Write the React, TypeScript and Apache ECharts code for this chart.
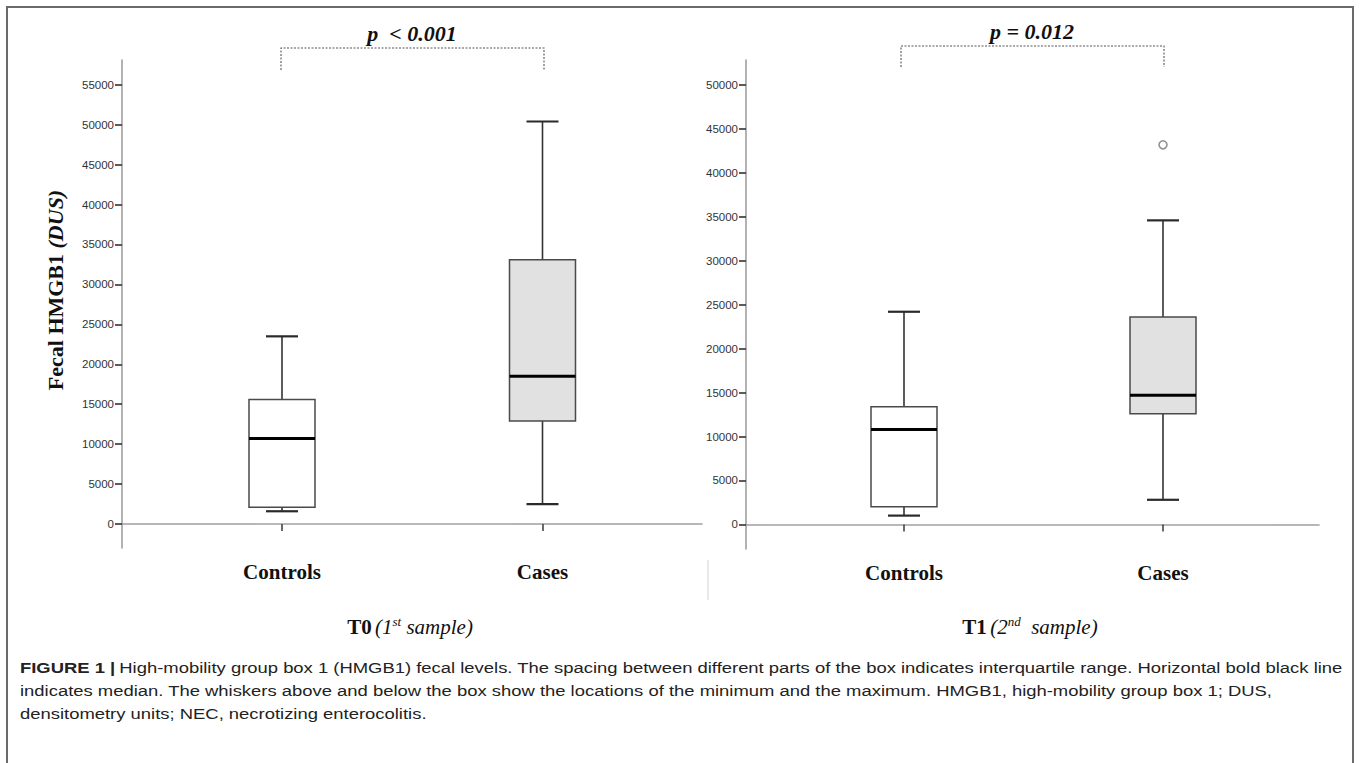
import React, { useEffect, useRef } from "react";
import * as echarts from "echarts";

// ---------- data ----------
const categories = ["Controls", "Cases"];
// each box: [min, Q1, median, Q3, max]
const t0Controls = [1600, 2100, 10700, 15600, 23500];
const t0Cases = [2500, 12900, 18500, 33100, 50400];
const t1Controls = [1000, 2000, 10800, 13400, 24200];
const t1Cases = [2800, 12600, 14700, 23600, 34600];
const t1CasesOutliers = [43200];
const t0Ticks = [0, 5000, 10000, 15000, 20000, 25000, 30000, 35000, 40000, 45000, 50000, 55000];
const t1Ticks = [0, 5000, 10000, 15000, 20000, 25000, 30000, 35000, 40000, 45000, 50000];
const t0Range = [-3000, 58100];
const t1Range = [-2800, 52850];
const boxFills = ["#ffffff", "#e1e1e1"];
const pLabels = ["p  < 0.001", "p = 0.012"];
const yTitle = "Fecal HMGB1 ";
const yTitleUnit = "(DUS)";
const captionLines = [
  "High-mobility group box 1 (HMGB1) fecal levels. The spacing between different parts of the box indicates interquartile range. Horizontal bold black line",
  "indicates median. The whiskers above and below the box show the locations of the minimum and the maximum. HMGB1, high-mobility group box 1; DUS,",
  "densitometry units; NEC, necrotizing enterocolitis.",
];

const SERIF = "'Liberation Serif', 'Times New Roman', serif";
const SANS = "'Liberation Sans', Arial, sans-serif";

const renderBox = (params: any, api: any) => {
  const idx = api.value(0);
  const c = (v: number) => api.coord([idx, v]);
  const pMin = c(api.value(1));
  const pQ1 = c(api.value(2));
  const pMed = c(api.value(3));
  const pQ3 = c(api.value(4));
  const pMax = c(api.value(5));
  const cx = pMed[0];
  const hw = 33;
  const cw = 16;
  const whisker = { stroke: "#333333", lineWidth: 1.6 };
  const capStyle = { stroke: "#2a2a2a", lineWidth: 2.2 };
  return {
    type: "group",
    children: [
      { type: "line", shape: { x1: cx, y1: pQ3[1], x2: cx, y2: pMax[1] }, style: whisker },
      { type: "line", shape: { x1: cx, y1: pQ1[1], x2: cx, y2: pMin[1] }, style: whisker },
      { type: "line", shape: { x1: cx - cw, y1: pMax[1], x2: cx + cw, y2: pMax[1] }, style: capStyle },
      { type: "line", shape: { x1: cx - cw, y1: pMin[1], x2: cx + cw, y2: pMin[1] }, style: capStyle },
      {
        type: "rect",
        shape: { x: cx - hw, y: pQ3[1], width: 2 * hw, height: pQ1[1] - pQ3[1] },
        style: { fill: boxFills[params.dataIndex], stroke: "#4a4a4a", lineWidth: 1.5 },
      },
      { type: "line", shape: { x1: cx - hw, y1: pMed[1], x2: cx + hw, y2: pMed[1] }, style: { stroke: "#000", lineWidth: 3 } },
    ],
  };
};

const frameX = (gridIndex: number) => ({
  gridIndex,
  type: "value",
  min: 0,
  max: 1,
  axisLine: { show: true, lineStyle: { color: "#a0a0a0", width: 1.6 } },
  axisTick: { show: false },
  axisLabel: { show: false },
  splitLine: { show: false },
});

const catX = (gridIndex: number) => ({
  gridIndex,
  type: "category",
  data: categories,
  axisLine: { show: false },
  axisTick: { show: true, alignWithLabel: true, length: 7, lineStyle: { color: "#444", width: 1.6 } },
  axisLabel: { margin: 13, fontFamily: SERIF, fontWeight: "bold", fontSize: 21, color: "#111" },
  splitLine: { show: false },
});

const frameY = (gridIndex: number, range: number[], ticks: number[]) => ({
  gridIndex,
  type: "value",
  min: range[0],
  max: range[1],
  axisLine: { show: true, lineStyle: { color: "#a0a0a0", width: 1.6 } },
  axisTick: { show: true, length: 7, customValues: ticks, lineStyle: { color: "#333", width: 1.6 } },
  axisLabel: {
    customValues: ticks,
    margin: 8,
    fontFamily: SANS,
    fontSize: 11.5,
    color: "#333",
    formatter: (v: number) => String(v),
  },
  splitLine: { show: false },
});

const hiddenY = (gridIndex: number, range: number[]) => ({
  gridIndex,
  type: "value",
  min: range[0],
  max: range[1],
  show: false,
  splitLine: { show: false },
});

const pText = (text: string, x: number, y: number) => ({
  type: "text",
  x,
  y,
  style: {
    text,
    fontFamily: SERIF,
    fontWeight: "bold",
    fontStyle: "italic",
    fontSize: 22,
    fill: "#111",
    align: "center",
    verticalAlign: "middle",
  },
});

const subRich = {
  b: { fontFamily: SERIF, fontWeight: "bold", fontSize: 21, lineHeight: 24, fill: "#111" },
  i: { fontFamily: SERIF, fontStyle: "italic", fontSize: 21, lineHeight: 24, fill: "#111" },
  s: { fontFamily: SERIF, fontStyle: "italic", fontSize: 13, lineHeight: 14, verticalAlign: "top", fill: "#111" },
};

export default function App() {
  const ref = useRef<HTMLDivElement>(null);
  useEffect(() => {
    if (!ref.current) return;
    const chart = echarts.init(ref.current, undefined, { renderer: "svg" });
    const option: any = {
      animation: false,
      backgroundColor: "#ffffff",
      grid: [
        { left: 122, top: 60, width: 580, height: 488, outerBoundsMode: "none" },
        { left: 151.75, top: 60, width: 521, height: 488, outerBoundsMode: "none" },
        { left: 746, top: 60, width: 573, height: 489, outerBoundsMode: "none" },
        { left: 774.5, top: 60, width: 518, height: 489, outerBoundsMode: "none" },
      ],
      xAxis: [frameX(0), catX(1), frameX(2), catX(3)],
      yAxis: [
        frameY(0, t0Range, t0Ticks),
        hiddenY(1, t0Range),
        frameY(2, t1Range, t1Ticks),
        hiddenY(3, t1Range),
      ],
      series: [
        {
          type: "custom",
          name: "T0",
          xAxisIndex: 1,
          yAxisIndex: 1,
          renderItem: renderBox,
          encode: { x: 0, y: [1, 2, 3, 4, 5] },
          data: [
            [0, ...t0Controls],
            [1, ...t0Cases],
          ],
        },
        {
          type: "custom",
          name: "T1",
          xAxisIndex: 3,
          yAxisIndex: 3,
          renderItem: renderBox,
          encode: { x: 0, y: [1, 2, 3, 4, 5] },
          data: [
            [0, ...t1Controls],
            [1, ...t1Cases],
          ],
        },
        {
          type: "scatter",
          name: "T1 outliers",
          xAxisIndex: 3,
          yAxisIndex: 3,
          symbol: "circle",
          symbolSize: 8,
          itemStyle: { color: "#ffffff", borderColor: "#777", borderWidth: 1.6 },
          data: t1CasesOutliers.map((v) => [categories[1], v]),
          z: 5,
        },
      ],
      graphic: [
        {
          type: "rect",
          shape: { x: 7, y: 7, width: 1346, height: 800 },
          style: { fill: "none", stroke: "#6a6a6a", lineWidth: 2 },
          silent: true,
        },
        {
          type: "line",
          shape: { x1: 708, y1: 560, x2: 708, y2: 600 },
          style: { stroke: "#d0d0d0", lineWidth: 1 },
        },
        {
          type: "polyline",
          shape: { points: [[281, 70], [281, 48], [544, 48], [544, 70]] },
          style: { fill: "none", stroke: "#555", lineWidth: 1.1, lineDash: [2, 1.5] },
        },
        {
          type: "polyline",
          shape: { points: [[901, 67], [901, 46], [1164, 46], [1164, 67]] },
          style: { fill: "none", stroke: "#555", lineWidth: 1.1, lineDash: [2, 1.5] },
        },
        pText(pLabels[0], 412, 33),
        pText(pLabels[1], 1032, 31),
        {
          type: "text",
          x: 55,
          y: 290,
          rotation: Math.PI / 2,
          style: {
            text: "{b|" + yTitle + "}{bi|" + yTitleUnit + "}",
            align: "center",
            verticalAlign: "middle",
            rich: {
              b: { fontFamily: SERIF, fontWeight: "bold", fontSize: 22, fill: "#111" },
              bi: { fontFamily: SERIF, fontWeight: "bold", fontStyle: "italic", fontSize: 22, fill: "#111" },
            },
          },
        },
        {
          type: "text",
          x: 410,
          y: 627,
          style: {
            text: "{b|T0} {i|(1}{s|st}{i| sample)}",
            align: "center",
            verticalAlign: "middle",
            rich: subRich,
          },
        },
        {
          type: "text",
          x: 1030,
          y: 627,
          style: {
            text: "{b|T1} {i|(2}{s|nd}{i|  sample)}",
            align: "center",
            verticalAlign: "middle",
            rich: subRich,
          },
        },
        {
          type: "text",
          x: 20,
          y: 657,
          scaleX: 1.19,
          style: {
            text: "{b|FIGURE 1 |} {n|" + captionLines[0] + "}\n{n|" + captionLines[1] + "}\n{n|" + captionLines[2] + "}",
            align: "left",
            verticalAlign: "top",
            rich: {
              b: { fontFamily: SANS, fontWeight: "bold", fontSize: 15.5, lineHeight: 23, fill: "#222" },
              n: { fontFamily: SANS, fontSize: 15.5, lineHeight: 23, fill: "#222" },
            },
          },
        },
      ],
    };
    chart.setOption(option);
    return () => chart.dispose();
  }, []);
  return (
    <div
      ref={ref}
      style={{ position: "fixed", left: 0, top: 0, width: 1360, height: 763, background: "#fff" }}
    />
  );
}
